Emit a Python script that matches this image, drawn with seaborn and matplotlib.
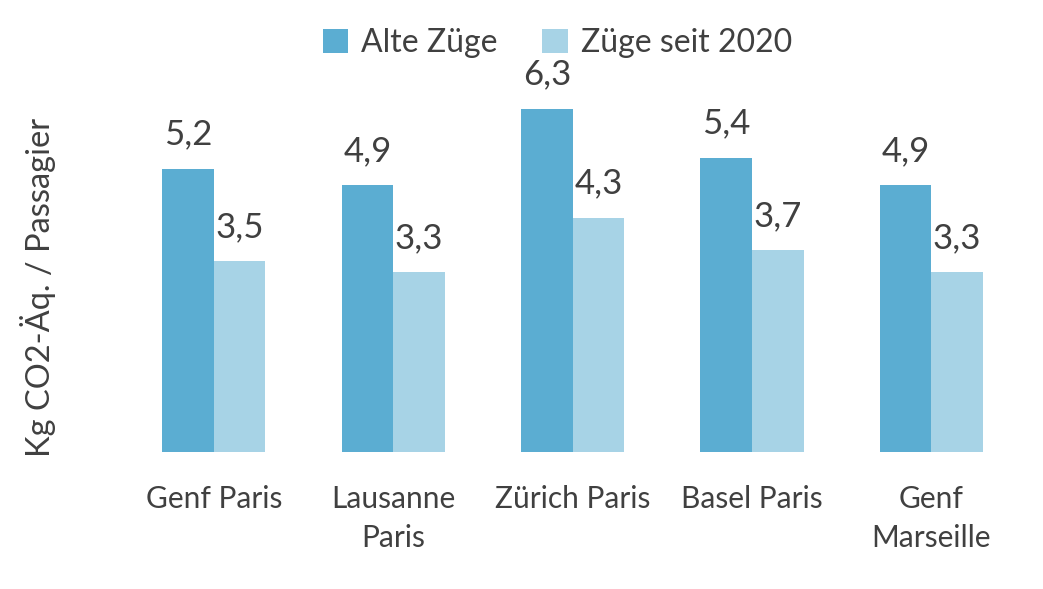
import pandas as pd
import matplotlib
matplotlib.use("Agg")
import matplotlib.pyplot as plt
import seaborn as sns

# Data
routes = ["Genf Paris", "Lausanne\nParis", "Zürich Paris", "Basel Paris", "Genf\nMarseille"]
alte_zuege = [5.2, 4.9, 6.3, 5.4, 4.9]
zuege_2020 = [3.5, 3.3, 4.3, 3.7, 3.3]
series = ["Alte Züge", "Züge seit 2020"]
colors = ["#5BADD2", "#A7D3E6"]

df = pd.DataFrame({
    "Route": routes * 2,
    "Wert": alte_zuege + zuege_2020,
    "Serie": [series[0]] * len(routes) + [series[1]] * len(routes),
})

sns.set_style("white")
plt.rcParams["font.family"] = ["Lato", "DejaVu Sans"]
text_color = "#404040"

fig = plt.figure(figsize=(10.43, 5.89), dpi=100)
ax = fig.add_axes([0.119, 0.2326, 0.86, 0.62])

sns.barplot(data=df, x="Route", y="Wert", hue="Serie", palette=colors,
            width=0.575, gap=0, saturation=1, linewidth=0, ax=ax)

ax.set_ylim(0, 6.7)
ax.set_xlim(-0.5, 4.5)
ax.set_yticks([])
ax.set_xlabel("")
ax.set_ylabel("Kg CO2-Äq. / Passagier", fontsize=23.5, color=text_color)
ax.yaxis.set_label_coords(-0.076, 0.45)
for s in ax.spines.values():
    s.set_visible(False)
ax.set_xticks(range(len(routes)), routes, linespacing=1.45)
ax.tick_params(axis="x", length=0, pad=24, labelsize=21.5, labelcolor=text_color)

for cont in ax.containers:
    ax.bar_label(cont, labels=[f"{v:.1f}".replace(".", ",") for v in cont.datavalues],
                 padding=13, fontsize=25, color=text_color)

ax.legend(loc="center", bbox_to_anchor=(0.483, 1.12), ncol=2, frameon=False,
          fontsize=23, labelcolor=text_color, handlelength=0.8, handleheight=0.8,
          columnspacing=1.4, handletextpad=0.4)

fig.savefig("out.png", dpi=100)
